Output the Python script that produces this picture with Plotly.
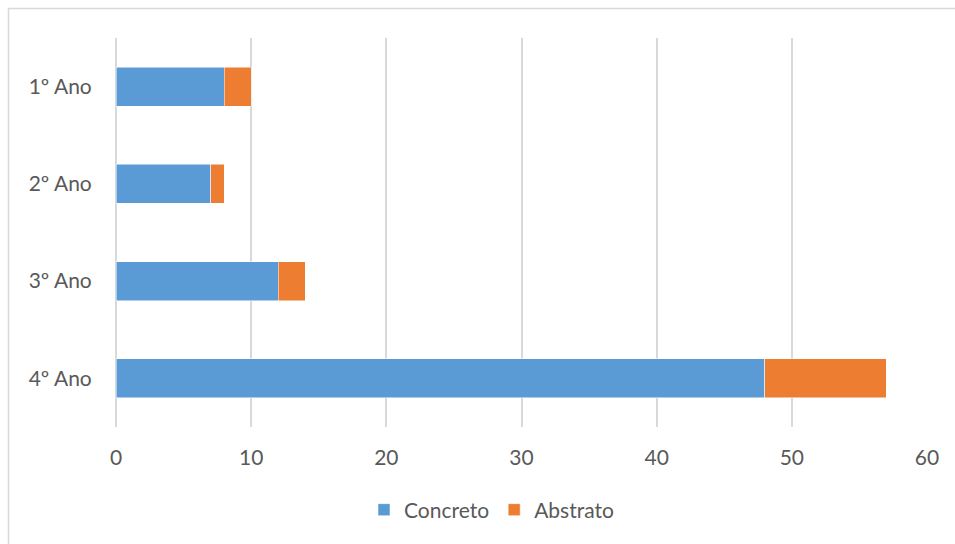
import plotly.graph_objects as go

categories = ["1º Ano", "2º Ano", "3º Ano", "4º Ano"]
concreto = [8, 7, 12, 48]
abstrato = [2, 1, 2, 9]
x_ticks = [0, 10, 20, 30, 40, 50, 60]

W, H = 955, 544
L, R, T, B = 116, 28, 38, 117
pw, ph = W - L - R, H - T - B

def px_x(p):
    return (p - L) / pw

def px_y(p):
    return (H - B - p) / ph

font_fam = "Lato, 'Open Sans', sans-serif"
FS = 21

fig = go.Figure()
fig.add_trace(go.Bar(y=categories, x=concreto, name="Concreto", orientation="h",
                     marker=dict(color="#5B9BD5", line=dict(color="white", width=0.5))))
fig.add_trace(go.Bar(y=categories, x=abstrato, name="Abstrato", orientation="h",
                     marker=dict(color="#ED7D31", line=dict(color="white", width=0.5))))

fig.update_layout(
    width=W, height=H,
    margin=dict(l=L, r=R, t=T, b=B, pad=0),
    barmode="stack", bargap=0.6,
    plot_bgcolor="white", paper_bgcolor="white",
    font=dict(family=font_fam, size=FS, color="#595959"),
    xaxis=dict(range=[0, 60], tickvals=x_ticks, showgrid=True, gridcolor="#d9d9d9",
               gridwidth=1.5, zeroline=True, zerolinecolor="#d9d9d9", zerolinewidth=1.5,
               showline=False, ticks="",
               ticklen=0, tickfont=dict(size=FS, color="#595959"), fixedrange=True),
    yaxis=dict(categoryorder="array", categoryarray=categories[::-1],
               showgrid=False, zeroline=False, showline=False, ticks="outside",
               ticklen=19, tickcolor="rgba(0,0,0,0)",
               tickfont=dict(size=FS, color="#595959")),
    legend=dict(orientation="h", x=px_x(364), xanchor="left", y=px_y(510), yanchor="middle",
                font=dict(size=FS, color="#595959"), traceorder="normal",
                itemwidth=30, bgcolor="rgba(0,0,0,0)"),
    shapes=[dict(type="rect", xref="paper", yref="paper",
                 x0=px_x(8.5), x1=px_x(970), y0=px_y(560), y1=px_y(8.5),
                 line=dict(color="#d9d9d9", width=1.5), fillcolor="rgba(0,0,0,0)", layer="below")],
)
fig.update_xaxes(ticklabelstandoff=16)
fig.write_html("out.html")
